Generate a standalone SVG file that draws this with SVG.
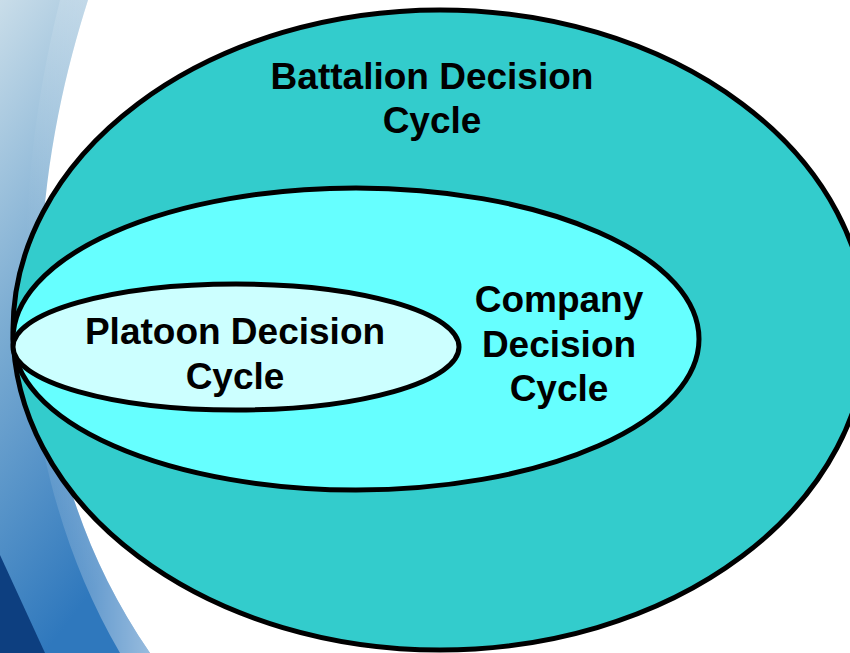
<svg xmlns="http://www.w3.org/2000/svg" width="850" height="653" viewBox="0 0 850 653">
<defs>
<linearGradient id="bg" x1="0" y1="0" x2="0.3" y2="1">
<stop offset="0" stop-color="#c9dde9"/>
<stop offset="0.45" stop-color="#7eaed3"/>
<stop offset="1" stop-color="#2f78bd"/>
</linearGradient>
<linearGradient id="gloss" x1="0" y1="0" x2="1" y2="0">
<stop offset="0" stop-color="#ffffff" stop-opacity="0"/>
<stop offset="1" stop-color="#ffffff" stop-opacity="0.5"/>
</linearGradient>
<style>
.e{stroke:#000;stroke-width:5}
.t{font-family:"Liberation Sans",Arial,sans-serif;font-weight:bold;font-size:37px;fill:#000;text-anchor:middle}
</style>
</defs>
<rect width="850" height="653" fill="#fff"/>
<g id="background">
<path d="M0,0 L88,0 C40,150 -10,420 150,653 L0,653 Z" fill="url(#bg)"/>
<path d="M60,0 L88,0 C40,150 -10,420 150,653 L120,653 C-10,430 20,160 60,0 Z" fill="url(#gloss)"/>
<path d="M0,555 L45,653 L0,653 Z" fill="#0d3f80"/>
</g>
<g id="battalion">
<ellipse class="e" cx="440" cy="330" rx="427" ry="320" fill="#33cccc"/>
<text class="t" x="432" y="89">Battalion Decision</text>
<text class="t" x="432" y="133">Cycle</text>
</g>
<g id="company">
<ellipse class="e" cx="356" cy="339" rx="343" ry="151" fill="#66ffff"/>
<text class="t" x="559" y="312">Company</text>
<text class="t" x="559" y="357">Decision</text>
<text class="t" x="559" y="401">Cycle</text>
</g>
<g id="platoon">
<ellipse class="e" cx="236" cy="347" rx="223" ry="63" fill="#ccffff"/>
<text class="t" x="235" y="344">Platoon Decision</text>
<text class="t" x="235" y="389">Cycle</text>
</g>
<g id="connectors"/>
</svg>
